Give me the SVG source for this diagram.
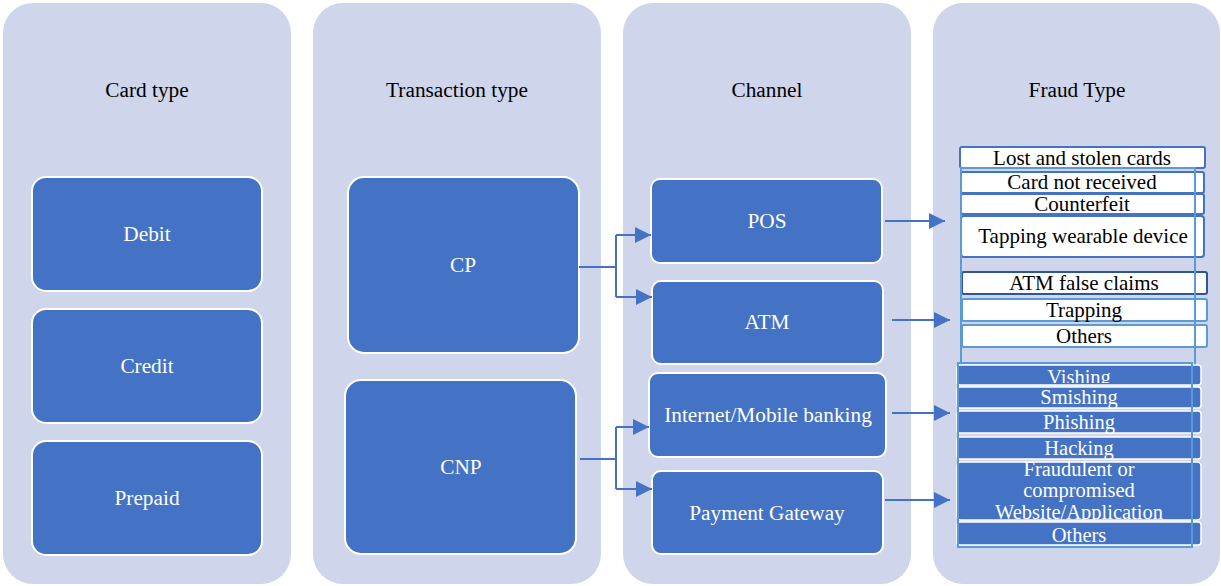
<svg xmlns="http://www.w3.org/2000/svg" width="1221" height="586" viewBox="0 0 1221 586">
<defs>
<style>
.panel{fill:#CFD5EA;}
.node{fill:#4472C4;stroke:#FFFFFF;stroke-width:2;}
.ntext{font-family:"Liberation Serif","Times New Roman",serif;font-size:21.3px;fill:#FFFFFF;text-anchor:middle;}
.title{font-family:"Liberation Serif","Times New Roman",serif;font-size:21.3px;fill:#000000;text-anchor:middle;}
.wbox{fill:#FFFFFF;stroke:#4472C4;stroke-width:2;}
.wbox2{fill:#FFFFFF;stroke:#5B9BD5;stroke-width:2;}
.wbox3{fill:#FFFFFF;stroke:#2F5597;stroke-width:2;}
.bbox{fill:#4472C4;stroke:#FFFFFF;stroke-width:1.5;}
.ftext{font-family:"Liberation Serif","Times New Roman",serif;font-size:21px;fill:#000000;text-anchor:middle;}
.btext{font-family:"Liberation Serif","Times New Roman",serif;font-size:20.5px;fill:#FFFFFF;text-anchor:middle;}
.outline{fill:none;stroke:#5B9BD5;stroke-width:2;}
.conn{fill:none;stroke:#4472C4;stroke-width:2;}
</style>
<marker id="arr" markerUnits="userSpaceOnUse" markerWidth="16" markerHeight="16" refX="16" refY="8" orient="auto" viewBox="0 0 16 16">
<path d="M0,0 L16,8 L0,16 z" fill="#4472C4"/>
</marker>
<clipPath id="clipV"><rect x="957" y="362" width="244" height="21"/></clipPath>
<clipPath id="clipW"><rect x="957" y="462" width="244" height="58"/></clipPath>
</defs>

<g id="panels">
<rect class="panel" x="3" y="3" width="288" height="581" rx="30"/>
<rect class="panel" x="313" y="3" width="288" height="581" rx="30"/>
<rect class="panel" x="623" y="3" width="288" height="581" rx="30"/>
<rect class="panel" x="933" y="3" width="287" height="581" rx="30"/>
<text class="title" x="147" y="97">Card type</text>
<text class="title" x="457" y="97">Transaction type</text>
<text class="title" x="767" y="97">Channel</text>
<text class="title" x="1077" y="97">Fraud Type</text>
</g>

<g id="debit"><rect class="node" x="32" y="177" width="230" height="114" rx="14"/><text class="ntext" x="147" y="241">Debit</text></g>
<g id="credit"><rect class="node" x="32" y="309" width="230" height="114" rx="14"/><text class="ntext" x="147" y="373">Credit</text></g>
<g id="prepaid"><rect class="node" x="32" y="441" width="230" height="114" rx="14"/><text class="ntext" x="147" y="505">Prepaid</text></g>

<g id="cp"><rect class="node" x="348" y="177" width="231" height="176" rx="16"/><text class="ntext" x="463" y="272">CP</text></g>
<g id="cnp"><rect class="node" x="345" y="380" width="231" height="174" rx="16"/><text class="ntext" x="461" y="474">CNP</text></g>

<g id="pos"><rect class="node" x="651" y="179" width="231" height="84" rx="9"/><text class="ntext" x="767" y="228">POS</text></g>
<g id="atm"><rect class="node" x="652" y="281" width="231" height="83" rx="9"/><text class="ntext" x="767" y="329">ATM</text></g>
<g id="internet"><rect class="node" x="649" y="373" width="237" height="84" rx="9"/><text class="ntext" x="768" y="422">Internet/Mobile banking</text></g>
<g id="gateway"><rect class="node" x="652" y="471" width="231" height="83" rx="9"/><text class="ntext" x="767" y="520">Payment Gateway</text></g>

<g id="fraud-pos">
<g id="lost"><rect class="wbox" x="960" y="147" width="245" height="21" rx="2"/><text class="ftext" x="1082" y="165">Lost and stolen cards</text></g>
<g id="notreceived"><rect class="wbox" x="961" y="172" width="243" height="21" rx="2"/><text class="ftext" x="1082" y="189">Card not received</text></g>
<g id="counterfeit"><rect class="wbox" x="961" y="194" width="243" height="20" rx="2"/><text class="ftext" x="1082" y="211">Counterfeit</text></g>
<g id="tapping"><rect class="wbox" x="961" y="216" width="243" height="41" rx="3"/><text class="ftext" x="1083" y="243">Tapping wearable device</text></g>
</g>

<g id="fraud-atm">
<g id="falseclaims"><rect class="wbox3" x="962" y="272" width="245" height="22" rx="2"/><text class="ftext" x="1084" y="290">ATM false claims</text></g>
<g id="trapping"><rect class="wbox2" x="962" y="299" width="245" height="22" rx="2"/><text class="ftext" x="1084" y="317">Trapping</text></g>
<g id="others1"><rect class="wbox2" x="962" y="325" width="245" height="22" rx="2"/><text class="ftext" x="1084" y="343">Others</text></g>
</g>
<rect class="outline" x="961" y="168" width="234" height="215"/>

<g id="fraud-online">
<g id="vishing"><rect class="bbox" x="957" y="365" width="244" height="20" rx="3"/><text class="btext" x="1079" y="384" clip-path="url(#clipV)">Vishing</text></g>
<g id="smishing"><rect class="bbox" x="957" y="387" width="244" height="21" rx="3"/><text class="btext" x="1079" y="404">Smishing</text></g>
<g id="phishing"><rect class="bbox" x="957" y="411" width="244" height="22" rx="3"/><text class="btext" x="1079" y="429">Phishing</text></g>
<g id="hacking"><rect class="bbox" x="957" y="437" width="244" height="22" rx="3"/><text class="btext" x="1079" y="455">Hacking</text></g>
<g id="fraudulent"><rect class="bbox" x="957" y="462" width="244" height="58" rx="4"/><text class="btext" x="1079" y="476">Fraudulent or</text><text class="btext" x="1079" y="497">compromised</text><text class="btext" x="1079" y="519" clip-path="url(#clipW)">Website/Application</text></g>
<g id="others2"><rect class="bbox" x="957" y="522" width="244" height="23" rx="3"/><text class="btext" x="1079" y="542">Others</text></g>
</g>
<rect class="outline" x="958" y="363" width="234" height="184"/>

<g id="connectors">
<path class="conn" d="M579,267 H616 M616,235 V297"/>
<path class="conn" d="M616,235 H651" marker-end="url(#arr)"/>
<path class="conn" d="M616,297 H652" marker-end="url(#arr)"/>
<path class="conn" d="M580,459 H616 M616,427 V489"/>
<path class="conn" d="M616,427 H649" marker-end="url(#arr)"/>
<path class="conn" d="M616,489 H652" marker-end="url(#arr)"/>
<path class="conn" d="M885,221 H945" marker-end="url(#arr)"/>
<path class="conn" d="M892,320 H950" marker-end="url(#arr)"/>
<path class="conn" d="M892,413 H950" marker-end="url(#arr)"/>
<path class="conn" d="M885,500 H950" marker-end="url(#arr)"/>
</g>
</svg>
